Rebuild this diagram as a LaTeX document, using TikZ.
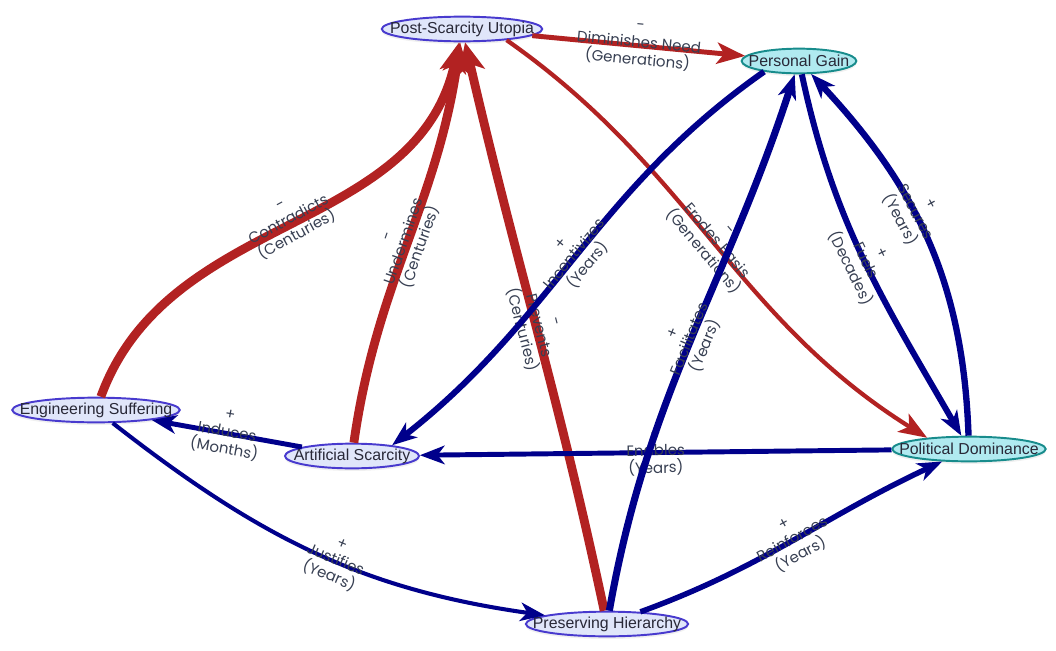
\documentclass[tikz,border=0pt]{standalone}
\usepackage{fontspec}
\setmainfont{Liberation Sans}
\newfontfamily\lblfont{Poppins}
\usetikzlibrary{arrows.meta}
\usetikzlibrary{shapes.geometric}
\usetikzlibrary{shadows}
\definecolor{negred}{RGB}{178,34,34}
\definecolor{posblue}{RGB}{0,0,139}
\definecolor{varfill}{RGB}{224,230,250}
\definecolor{varline}{RGB}{72,58,206}
\definecolor{goalfill}{RGB}{176,234,240}
\definecolor{goalline}{RGB}{24,140,140}
\definecolor{nodetext}{RGB}{40,40,55}
\definecolor{lblgray}{RGB}{55,63,82}

\begin{document}
\begin{tikzpicture}[x=0.567pt, y=0.567pt,
  var/.style={ellipse, draw=varline, fill=varfill, line width=1.1pt, inner xsep=-30pt, inner ysep=0pt,
    minimum height=14pt, text=nodetext, font=\fontsize{9}{10}\selectfont,
    drop shadow={shadow xshift=0pt, shadow yshift=-1.5pt, opacity=0.12}},
  goal/.style={var, draw=goalline, fill=goalfill},
  minuslink/.style={draw=negred, -{Stealth[length=16pt, width=12pt, inset=4pt]}},
  bigminus/.style={draw=negred, line width=5pt, -{Stealth[length=17pt, width=15pt, inset=4.5pt]}},
  pluslink/.style={draw=posblue, -{Stealth[length=14pt, width=10.5pt, inset=4pt]}},
  lbl/.style={sloped, midway, align=center, inner sep=0pt, text=lblgray, font=\lblfont\fontsize{8.5}{9.8}\selectfont}]
\useasboundingbox (0,0) rectangle (1056,-651);

\node[var, minimum width=91pt] (psu) at (462,-29) {Post-Scarcity Utopia};
\node[goal, minimum width=65pt] (pg) at (799,-61) {Personal Gain};
\node[var, minimum width=95pt] (es) at (96,-410) {Engineering Suffering};
\node[var, minimum width=76pt] (as) at (352,-456) {Artificial Scarcity};
\node[goal, minimum width=87pt] (pd) at (969,-449) {Political Dominance};
\node[var, minimum width=92pt] (ph) at (607,-624) {Preserving Hierarchy};

\draw[minuslink, line width=2.8pt] (psu) -- node[lbl]{-\\Diminishes Need\\(Generations)} (pg);
\draw[minuslink, line width=2.4pt] (psu.-14) to[out=-35, in=148] node[lbl]{-\\Erodes Basis\\(Generations)} (pd.165);
\draw[bigminus] (es) to[out=70, in=-102] node[lbl]{-\\Contradicts\\(Centuries)} (psu);
\draw[bigminus] (as) to[out=82, in=-98] node[lbl]{-\\Undermines\\(Centuries)} (psu);
\draw[bigminus] (ph) to[out=102, in=-77] node[lbl]{-\\Prevents\\(Centuries)} (psu);
\draw[pluslink, line width=3.4pt] (pg.197) to[out=-145, in=38] node[lbl]{+\\Incentivizes\\(Years)} (as.15);
\draw[pluslink, line width=3.4pt] (pg) to[out=-78, in=120] node[lbl]{+\\Fuels\\(Decades)} (pd);
\draw[pluslink, line width=3.6pt] (pd) to[out=92, in=-47] node[lbl, pos=0.58]{+\\Secures\\(Years)} (pg);
\draw[pluslink, line width=2.8pt] (pd) -- node[lbl]{+\\Enables\\(Years)} (as);
\draw[pluslink, line width=4pt] (ph) to[out=80, in=-108] node[lbl]{+\\Facilitates\\(Years)} (pg);
\draw[pluslink, line width=2.8pt] (as) -- node[lbl]{+\\Induces\\(Months)} (es);
\draw[pluslink, line width=2.3pt] (es) to[out=-38, in=172] node[lbl, pos=0.55]{+\\Justifies\\(Years)} (ph);
\draw[pluslink, line width=3.1pt] (ph) to[out=20, in=-155] node[lbl]{+\\Reinforces\\(Years)} (pd);
\end{tikzpicture}
\end{document}
